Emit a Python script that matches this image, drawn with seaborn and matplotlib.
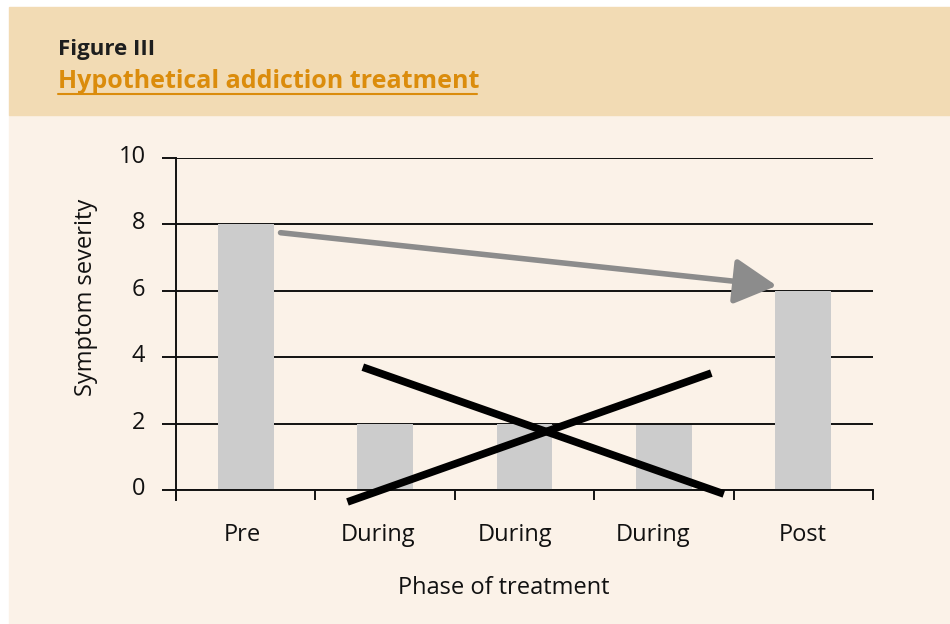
import matplotlib
matplotlib.use("Agg")
import matplotlib.pyplot as plt
import matplotlib.transforms as mtransforms
from matplotlib.patches import Rectangle, FancyArrowPatch
import pandas as pd
import seaborn as sns

# data
slots = ["Pre", "During 1", "During 2", "During 3", "Post"]
phase_labels = ["Pre", "During", "During", "During", "Post"]
severity = [8.0, 2.0, 2.0, 1.97, 6.0]
y_ticks = [0, 2, 4, 6, 8, 10]

# annotation marks, in data units (x = category position)
trend_start = (0.25, 7.75)
trend_end = (3.81, 6.15)
cross_a_x = [0.84, 3.43]
cross_a_y = [3.70, -0.12]
cross_b_x = [0.73, 3.34]
cross_b_y = [-0.36, 3.52]

HEADER = "#F2DBB4"
BODY = "#FBF2E8"
ORANGE = "#DB8C0C"

sns.set_theme(style="white")
plt.rcParams["font.family"] = ["Open Sans", "DejaVu Sans"]

fig = plt.figure(figsize=(9.5, 6.24), dpi=100, facecolor="white")

# background panels
fig.patches.append(Rectangle((9 / 950, 0), 941 / 950, 1 - 115 / 624,
                             transform=fig.transFigure, color=BODY, zorder=-2))
fig.patches.append(Rectangle((9 / 950, 1 - 115 / 624), 941 / 950, 108 / 624,
                             transform=fig.transFigure, color=HEADER, zorder=-2))

fig.text(58 / 950, 1 - 49 / 624, "Figure III", fontsize=16, fontweight="bold",
         color="#1E1E1E", va="center", ha="left")
fig.text(58 / 950, 1 - 81 / 624, "Hypothetical addiction treatment", fontsize=18,
         fontweight="bold", color=ORANGE, va="center", ha="left")
fig.lines.append(plt.Line2D([58 / 950, 477 / 950], [1 - 94 / 624, 1 - 94 / 624],
                            transform=fig.transFigure, color=ORANGE, lw=1.5))

ax = fig.add_axes([176 / 950, 1 - 490 / 624, 697 / 950, 332 / 624])
ax.set_facecolor("none")

df = pd.DataFrame({"slot": slots, "severity": severity})
sns.barplot(data=df, x="slot", y="severity", color="#CCCCCC", width=0.4,
            saturation=1, linewidth=0, ax=ax, zorder=2)

ax.set_xlim(-0.5, 4.5)
ax.set_ylim(0, 10)
ax.set_yticks(y_ticks)
ax.yaxis.grid(True, color="#111111", lw=1.4, zorder=1)
ax.set_axisbelow(True)
ax.tick_params(axis="y", direction="out", length=10, width=1.4, color="#111111",
               labelsize=17, pad=12, left=True, labelcolor="#111111")

ax.set_xticks(range(len(slots)))
ax.set_xticklabels(phase_labels)
ax.set_xticks([i - 0.5 for i in range(len(slots) + 1)], minor=True)
ax.tick_params(axis="x", which="major", length=0, labelsize=17, pad=24,
               labelcolor="#111111")
ax.tick_params(axis="x", which="minor", direction="out", length=7, width=1.4,
               color="#111111", bottom=True)

# small nudges so the labels sit where the original layout put them
for lab in ax.get_yticklabels():
    lab.set_transform(lab.get_transform() +
                      mtransforms.ScaledTranslation(0, 4 / 100, fig.dpi_scale_trans))
x_nudge = [-3, -7, -9, -11, -1]
for lab, dx in zip(ax.get_xticklabels(), x_nudge):
    lab.set_transform(lab.get_transform() +
                      mtransforms.ScaledTranslation(dx / 100, 0, fig.dpi_scale_trans))

for side in ["top", "right"]:
    ax.spines[side].set_visible(False)
ax.spines["left"].set_color("#111111")
ax.spines["left"].set_linewidth(1.4)
ax.spines["left"].set_bounds(-0.3, 10)
ax.spines["bottom"].set_color("#111111")
ax.spines["bottom"].set_linewidth(1.4)

ax.set_xlabel("Phase of treatment", fontsize=17, color="#111111")
ax.xaxis.set_label_coords((504 - 176) / 697, -(576 - 490) / 332)
ax.set_ylabel("Symptom severity", fontsize=17, color="#111111")
ax.yaxis.set_label_coords(-(176 - 98) / 697, (490 - 297) / 332)

arrow = FancyArrowPatch(trend_start, trend_end,
                        arrowstyle="-|>,head_length=26,head_width=14",
                        mutation_scale=1, color="#8C8C8C", lw=4, zorder=4,
                        shrinkA=0, shrinkB=0)
ax.add_patch(arrow)

ax.plot(cross_a_x, cross_a_y, color="black", lw=5.5, solid_capstyle="butt",
        clip_on=False, zorder=5)
ax.plot(cross_b_x, cross_b_y, color="black", lw=5.5, solid_capstyle="butt",
        clip_on=False, zorder=5)

fig.savefig("out.png", dpi=100, facecolor="white")
